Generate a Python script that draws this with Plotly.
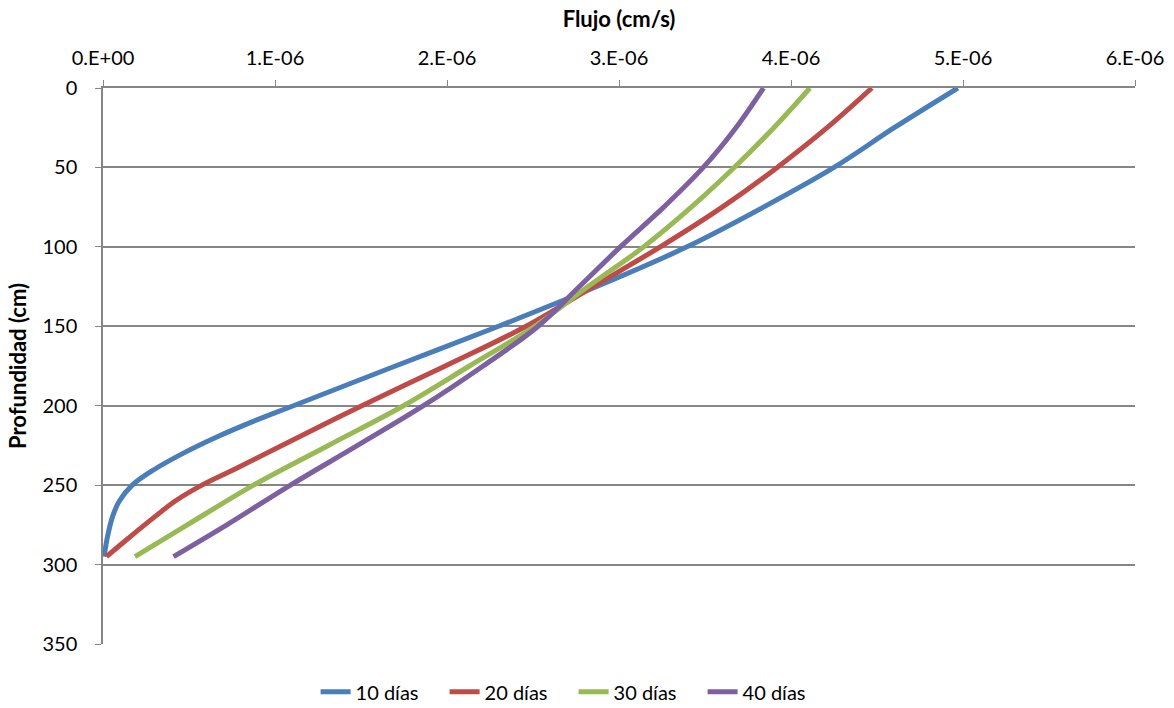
import plotly.graph_objects as go

# Depth (cm) and flux (x 1e-6 cm/s)
depth_10 = [0, 25, 50, 75, 100, 125, 150, 175, 200, 210, 220, 230, 240, 250, 260, 270, 282, 295]
flux_10 = [4.97, 4.60, 4.25, 3.84, 3.395, 2.87, 2.30, 1.70, 1.107, 0.87, 0.655, 0.465, 0.30, 0.17, 0.095, 0.055, 0.027, 0.006]

depth_20 = [0, 25, 50, 75, 100, 125, 150, 175, 200, 225, 240, 250, 260, 270, 285, 295]
flux_20 = [4.47, 4.21, 3.92, 3.60, 3.24, 2.85, 2.46, 1.99, 1.505, 1.04, 0.765, 0.575, 0.42, 0.30, 0.13, 0.02]

depth_30 = [0, 25, 50, 75, 100, 125, 150, 175, 200, 225, 250, 275, 295]
flux_30 = [4.11, 3.90, 3.67, 3.42, 3.143, 2.82, 2.51, 2.13, 1.747, 1.31, 0.875, 0.49, 0.186]

depth_40 = [0, 25, 50, 75, 100, 125, 150, 175, 200, 225, 250, 275, 295]
flux_40 = [3.84, 3.68, 3.49, 3.26, 3.008, 2.77, 2.53, 2.21, 1.863, 1.48, 1.09, 0.72, 0.41]

series_names = ["10 días", "20 días", "30 días", "40 días"]
series_colors = ["#4A7EBB", "#BE4B48", "#98B954", "#7D60A0"]

x_tickvals = [0, 1e-6, 2e-6, 3e-6, 4e-6, 5e-6, 6e-6]
x_ticktext = ["0.E+00", "1.E-06", "2.E-06", "3.E-06", "4.E-06", "5.E-06", "6.E-06"]
y_tickvals = [0, 50, 100, 150, 200, 250, 300, 350]

FONT = "Lato"
GRID = "#868686"
fig = go.Figure()
for name, color, d, f in zip(series_names, series_colors,
                             [depth_10, depth_20, depth_30, depth_40],
                             [flux_10, flux_20, flux_30, flux_40]):
    fig.add_trace(go.Scatter(
        x=[v * 1e-6 for v in f], y=d, mode="lines", name=name,
        line=dict(color=color, width=5, shape="spline", smoothing=1.0),
    ))

fig.update_layout(
    width=1174, height=708,
    margin=dict(l=103, r=39, t=88, b=64, autoexpand=False),
    paper_bgcolor="white", plot_bgcolor="white",
    font=dict(family=FONT, size=20, color="black"),
    showlegend=True,
    legend=dict(orientation="h", x=0.456, xanchor="center", y=-0.086, yanchor="middle",
                font=dict(family=FONT, size=20), entrywidth=84, tracegroupgap=0),
    xaxis=dict(
        side="top", range=[0, 6e-6], tickvals=x_tickvals, ticktext=x_ticktext,
        automargin=False,
        showgrid=False, zeroline=False, showline=True, linecolor=GRID, linewidth=1.5,
        ticks="outside", ticklen=6, tickcolor=GRID, ticklabelstandoff=7,
        title=dict(text="<b>Flujo (cm/s)</b>", font=dict(family=FONT, size=22), standoff=12),
    ),
    yaxis=dict(
        range=[350, 0], tickvals=y_tickvals, automargin=False,
        showgrid=True, gridcolor=GRID, gridwidth=1.5, zeroline=False,
        showline=True, linecolor=GRID, linewidth=1.5,
        ticks="outside", ticklen=6, tickcolor=GRID, ticklabelstandoff=14,
        title=dict(text="<b>Profundidad (cm)</b>", font=dict(family=FONT, size=22), standoff=10),
    ),
)

fig.write_html("out.html", config={"displayModeBar": False},
               post_script="document.body.style.margin='0';document.body.style.overflow='hidden';")
